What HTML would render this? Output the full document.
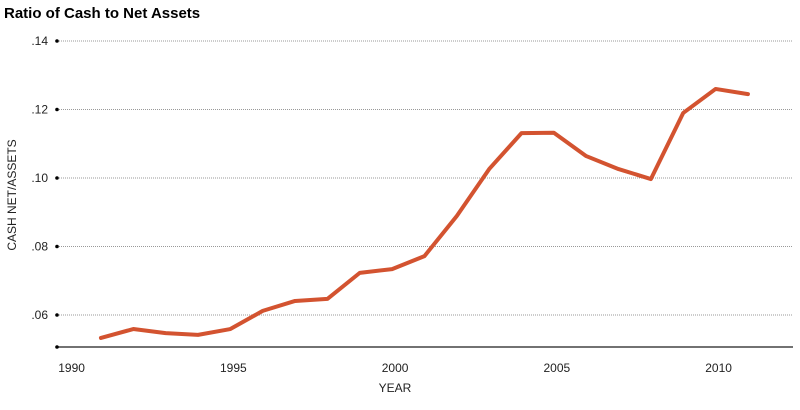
<!DOCTYPE html>
<html><head><meta charset="utf-8"><style>
body{margin:0;background:#fff;width:800px;height:405px;overflow:hidden}
svg text{font-family:"Liberation Sans",sans-serif}
</style></head><body>
<svg width="800" height="405">
<text x="4" y="18" font-size="15" font-weight="bold" fill="#000">Ratio of Cash to Net Assets</text>
<g id="grid"></g>
<g id="xaxis"></g>
<text x="16" y="195" font-size="12" fill="#222" text-anchor="middle" transform="rotate(-90 16 195)">CASH NET/ASSETS</text>
<text x="395" y="392" font-size="12" fill="#222" text-anchor="middle">YEAR</text>
<path id="line" fill="none" stroke="#d35330" stroke-width="4" stroke-linejoin="round" stroke-linecap="round"></path>
</svg>
<script>
const years=[1991,1992,1993,1994,1995,1996,1997,1998,1999,2000,2001,2002,2003,2004,2005,2006,2007,2008,2009,2010,2011];
const values=[.0533,.0559,.0547,.0542,.0559,.0612,.0641,.0647,.0723,.0734,.0772,.0889,.1026,.1131,.1132,.1064,.1026,.0997,.119,.126,.1245];
const yTicks=[.06,.08,.10,.12,.14];
const yTickLabels=[".06",".08",".10",".12",".14"];
const xTicks=[1990,1995,2000,2005,2010];
const ns="http://www.w3.org/2000/svg";
const X=y=>68.6+(y-1990)*32.35;
const Y=v=>41+(0.14-v)/0.02*68.5;
const grid=document.getElementById('grid');
function mk(t,a,p){const e=document.createElementNS(ns,t);for(const k in a)e.setAttribute(k,a[k]);p.appendChild(e);return e;}
yTicks.forEach((v,i)=>{
 const l=mk('line',{x1:57,x2:793,y1:Y(v),y2:Y(v),stroke:'#999','stroke-dasharray':'1,1'},grid);
 
 
 const c=mk('circle',{cx:57,cy:Y(v),r:1.8,fill:'#000'},grid);
 
 
 const t=mk('text',{x:48,y:Y(v)+4,'font-size':12,'text-anchor':'end',fill:'#222'},grid);
 t.textContent=yTickLabels[i];
 
 
});
const xa=document.getElementById('xaxis');
const ax=mk('line',{x1:57,x2:793,y1:347,y2:347,stroke:'#444','stroke-width':1.5},xa);


const c0=mk('circle',{cx:57,cy:347,r:1.8,fill:'#000'},xa);


xTicks.forEach(y=>{
 const t=mk('text',{x:X(y)+3,y:372,'font-size':12,'text-anchor':'middle',fill:'#222'},xa);
 t.textContent=y;
 
 
});
document.getElementById('line').setAttribute('d',years.map((y,i)=>(i?'L':'M')+X(y)+','+Y(values[i])).join(''));
</script>
</body></html>
